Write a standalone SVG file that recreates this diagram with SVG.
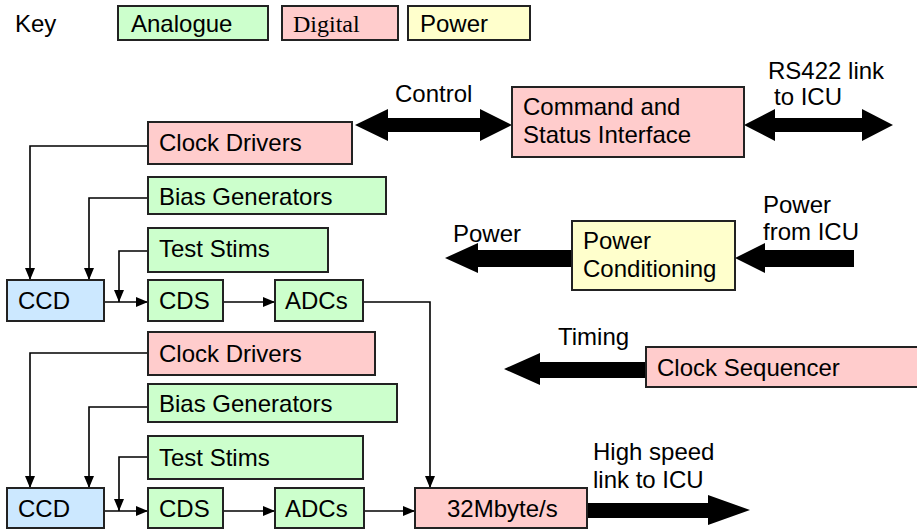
<svg xmlns="http://www.w3.org/2000/svg" width="917" height="531" viewBox="0 0 917 531">
  <style>
    text { font-family: "Liberation Sans", Arial, sans-serif; font-size: 24px; fill: #000; }
    .serif { font-family: "Liberation Serif", "Times New Roman", serif; }
    .box { stroke: #222; stroke-width: 2; }
    .ana { fill: #ccffcc; }
    .dig { fill: #ffcccc; }
    .pwr { fill: #ffffcc; }
    .ccd { fill: #cce8ff; }
    .wire { fill: none; stroke: #000; stroke-width: 1.6; }
    .bus { fill: #000; stroke: none; }
  </style>
  <defs>
    <marker id="arr" viewBox="0 0 12 10" refX="12" refY="5" markerWidth="12" markerHeight="10" markerUnits="userSpaceOnUse" orient="auto">
      <path d="M0,0 L12,5 L0,10 Z" fill="#000"/>
    </marker>
  </defs>

  <!-- legend -->
  <g id="key">
    <text x="15" y="32">Key</text>
    <rect class="box ana" x="118" y="6" width="150" height="34"/>
    <text x="131" y="32">Analogue</text>
    <rect class="box dig" x="282" y="6" width="116" height="34"/>
    <text class="serif" x="293" y="32">Digital</text>
    <rect class="box pwr" x="408" y="6" width="122" height="34"/>
    <text x="420" y="32">Power</text>
  </g>

  <!-- connectors -->
  <g id="connectors">
    <!-- upper chain -->
    <path class="wire" d="M148,146 H30 V280" marker-end="url(#arr)"/>
    <path class="wire" d="M148,198 H89 V280" marker-end="url(#arr)"/>
    <path class="wire" d="M148,251 H119 V302" marker-end="url(#arr)"/>
    <path class="wire" d="M104,302 H148" marker-end="url(#arr)"/>
    <path class="wire" d="M223,302 H275" marker-end="url(#arr)"/>
    <path class="wire" d="M363,302 H430 V488" marker-end="url(#arr)"/>
    <!-- lower chain -->
    <path class="wire" d="M148,353 H30 V488" marker-end="url(#arr)"/>
    <path class="wire" d="M148,407 H89 V488" marker-end="url(#arr)"/>
    <path class="wire" d="M148,457 H119 V511" marker-end="url(#arr)"/>
    <path class="wire" d="M104,511 H148" marker-end="url(#arr)"/>
    <path class="wire" d="M223,511 H275" marker-end="url(#arr)"/>
    <path class="wire" d="M364,511 H415" marker-end="url(#arr)"/>

    <!-- block arrows -->
    <path class="bus" d="M355,125 L388,109 L388,118 L480,118 L480,109 L512,125 L480,141 L480,132 L388,132 L388,141 Z"/>
    <path class="bus" d="M744,125 L775,109 L775,118 L862,118 L862,109 L893,125 L862,141 L862,132 L775,132 L775,141 Z"/>
    <path class="bus" d="M445,258 L478,243 L478,250 L572,250 L572,267 L478,267 L478,273 Z"/>
    <path class="bus" d="M735,258 L765,243 L765,250 L854,250 L854,267 L765,267 L765,273 Z"/>
    <path class="bus" d="M504,369 L540,353 L540,362 L646,362 L646,378 L540,378 L540,385 Z"/>
    <path class="bus" d="M587,503 L708,503 L708,495 L750,510 L708,525 L708,518 L587,518 Z"/>
  </g>

  <g id="command-status">
    <rect class="box dig" x="512" y="87" width="232" height="70"/>
    <text x="523" y="115">Command and</text>
    <text x="523" y="143">Status Interface</text>
  </g>

  <g id="clock-drivers-1">
    <rect class="box dig" x="148" y="122" width="204" height="42"/>
    <text x="159" y="151">Clock Drivers</text>
  </g>
  <g id="bias-generators-1">
    <rect class="box ana" x="148" y="177" width="238" height="37"/>
    <text x="159" y="205">Bias Generators</text>
  </g>
  <g id="test-stims-1">
    <rect class="box ana" x="148" y="228" width="180" height="44"/>
    <text x="159" y="257">Test Stims</text>
  </g>
  <g id="ccd-1">
    <rect class="box ccd" x="7" y="280" width="97" height="41"/>
    <text x="18" y="309">CCD</text>
  </g>
  <g id="cds-1">
    <rect class="box ana" x="148" y="280" width="75" height="41"/>
    <text x="159" y="309">CDS</text>
  </g>
  <g id="adcs-1">
    <rect class="box ana" x="275" y="280" width="88" height="41"/>
    <text x="285" y="309">ADCs</text>
  </g>

  <g id="clock-drivers-2">
    <rect class="box dig" x="148" y="332" width="227" height="43"/>
    <text x="159" y="362">Clock Drivers</text>
  </g>
  <g id="bias-generators-2">
    <rect class="box ana" x="148" y="384" width="249" height="38"/>
    <text x="159" y="412">Bias Generators</text>
  </g>
  <g id="test-stims-2">
    <rect class="box ana" x="148" y="436" width="215" height="43"/>
    <text x="159" y="466">Test Stims</text>
  </g>
  <g id="ccd-2">
    <rect class="box ccd" x="7" y="488" width="97" height="40"/>
    <text x="18" y="517">CCD</text>
  </g>
  <g id="cds-2">
    <rect class="box ana" x="148" y="488" width="75" height="40"/>
    <text x="159" y="517">CDS</text>
  </g>
  <g id="adcs-2">
    <rect class="box ana" x="275" y="488" width="89" height="40"/>
    <text x="285" y="517">ADCs</text>
  </g>
  <g id="data-link">
    <rect class="box dig" x="415" y="488" width="172" height="40"/>
    <text x="447" y="517">32Mbyte/s</text>
  </g>

  <g id="power-conditioning">
    <rect class="box pwr" x="572" y="221" width="163" height="69"/>
    <text x="583" y="249">Power</text>
    <text x="583" y="277">Conditioning</text>
  </g>

  <g id="clock-sequencer">
    <rect class="box dig" x="646" y="347" width="272" height="40"/>
    <text x="657" y="376">Clock Sequencer</text>
  </g>

  <!-- arrow labels -->
  <g id="labels">
    <text x="395" y="102">Control</text>
    <text x="768" y="79">RS422 link</text>
    <text x="774" y="105">to ICU</text>
    <text x="453" y="242">Power</text>
    <text x="763" y="213">Power</text>
    <text x="763" y="240">from ICU</text>
    <text x="558" y="345">Timing</text>
    <text x="593" y="460">High speed</text>
    <text x="593" y="488">link to ICU</text>
  </g>
</svg>
